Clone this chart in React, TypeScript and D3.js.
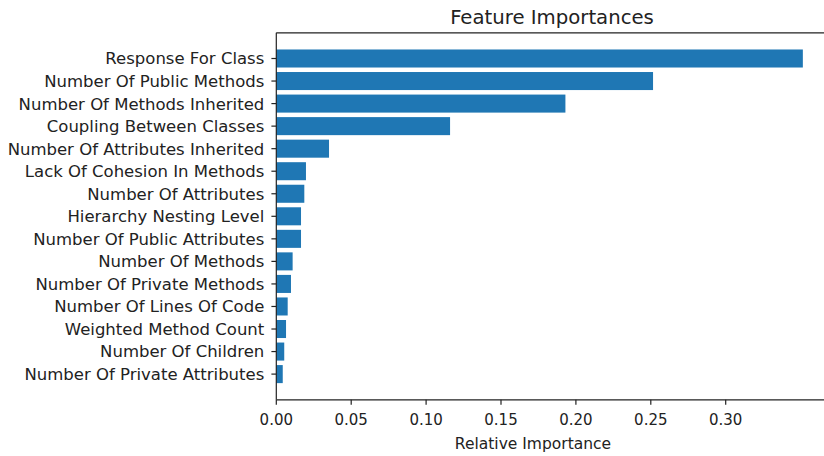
import React from "react";
import * as d3 from "d3";

const features: string[] = [
  "Response For Class",
  "Number Of Public Methods",
  "Number Of Methods Inherited",
  "Coupling Between Classes",
  "Number Of Attributes Inherited",
  "Lack Of Cohesion In Methods",
  "Number Of Attributes",
  "Hierarchy Nesting Level",
  "Number Of Public Attributes",
  "Number Of Methods",
  "Number Of Private Methods",
  "Number Of Lines Of Code",
  "Weighted Method Count",
  "Number Of Children",
  "Number Of Private Attributes",
];
const importances: number[] = [
  0.3515, 0.2515, 0.193, 0.116, 0.0352, 0.0198, 0.0187, 0.0165, 0.0165, 0.0109,
  0.0098, 0.0076, 0.0065, 0.0053, 0.0043,
];
const xTicks: number[] = [0, 0.05, 0.1, 0.15, 0.2, 0.25, 0.3];

const W = 824;
const H = 456;
const left = 276.3;
const top = 32.8;
const bottom = 399.8;
const FONT = "'DejaVu Sans', sans-serif";

export default function App() {
  const x = d3.scaleLinear().domain([0, 0.05]).range([left, left + 74.9]);
  const n = features.length;
  const lo = -0.4 - 0.05 * (n - 1 + 0.8);
  const hi = n - 1 + 0.4 + 0.05 * (n - 1 + 0.8);
  const y = d3.scaleLinear().domain([lo, hi]).range([bottom, top]);
  const pos = (i: number) => n - 1 - i;
  const bh = y(0) - y(0.8);
  const right = x(0.38);

  return (
    <svg
      width={W}
      height={H}
      style={{ position: "absolute", left: 0, top: 0, background: "#fff" }}
      fontFamily={FONT}
    >
      <rect x={0} y={0} width={W} height={H} fill="#fff" />
      {features.map((f, i) => (
        <rect
          key={f}
          x={x(0)}
          y={y(pos(i) + 0.4)}
          width={x(importances[i]) - x(0)}
          height={bh}
          fill="#1f77b4"
        />
      ))}
      <line x1={left} x2={left} y1={top} y2={bottom} stroke="#222" strokeWidth={1.2} />
      <line x1={left} x2={right} y1={bottom} y2={bottom} stroke="#222" strokeWidth={1.2} />
      <line x1={left} x2={right} y1={top} y2={top} stroke="#222" strokeWidth={1.2} />
      {features.map((f, i) => (
        <g key={"t" + f}>
          <line x1={left - 4.9} x2={left} y1={y(pos(i))} y2={y(pos(i))} stroke="#222" strokeWidth={1.2} />
          <text
            x={left - 12}
            y={y(pos(i))}
            dy="0.36em"
            textAnchor="end"
            fontSize={16.5}
            fill="#222"
          >
            {f}
          </text>
        </g>
      ))}
      {xTicks.map((t) => (
        <g key={"x" + t}>
          <line x1={x(t)} x2={x(t)} y1={bottom} y2={bottom + 4.9} stroke="#222" strokeWidth={1.2} />
          <text x={x(t)} y={420} dy="0.36em" textAnchor="middle" fontSize={15} fill="#222">
            {t.toFixed(2)}
          </text>
        </g>
      ))}
      <text x={533} y={443} dy="0.36em" textAnchor="middle" fontSize={15.5} fill="#222">
        Relative Importance
      </text>
      <text x={552} y={17} dy="0.36em" textAnchor="middle" fontSize={19.7} fill="#222">
        Feature Importances
      </text>
    </svg>
  );
}
